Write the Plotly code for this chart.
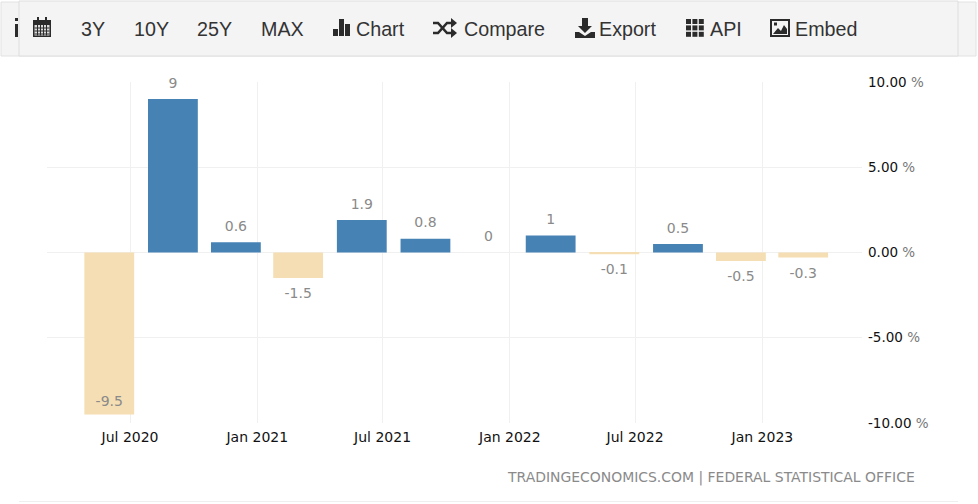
import plotly.graph_objects as go

# ---- data ----
quarters = ["2020-06-01", "2020-09-01", "2020-12-01", "2021-03-01", "2021-06-01", "2021-09-01",
            "2021-12-01", "2022-03-01", "2022-06-01", "2022-09-01", "2022-12-01", "2023-03-01"]
values = [-9.5, 9, 0.6, -1.5, 1.9, 0.8, 0, 1, -0.1, 0.5, -0.5, -0.3]
x_tick_vals = ["2020-07-01", "2021-01-01", "2021-07-01", "2022-01-01", "2022-07-01", "2023-01-01"]
x_tick_text = ["Jul 2020", "Jan 2021", "Jul 2021", "Jan 2022", "Jul 2022", "Jan 2023"]
y_tick_vals = [-10, -5, 0, 5, 10]
y_tick_text = ["-10.00", "-5.00", "0.00", "5.00", "10.00"]
toolbar_items = [("3Y", 81), ("10Y", 134), ("25Y", 197), ("MAX", 261), ("Chart", 356),
                 ("Compare", 464), ("Export", 599), ("API", 710), ("Embed", 795)]
footer = "TRADINGECONOMICS.COM | FEDERAL STATISTICAL OFFICE"

# ---- page geometry (pixels) ----
W, H = 978, 504
L, R, T, B = 47, 862, 82, 423
BLUE, SAND, GRID, TXT = "#4682b4", "#f5deb3", "#f0f0f0", "#8a8a8a"
ICON = "#2b2b2b"
AXIS_FONT = "DejaVu Sans"


def px(x):
    return (x - L) / (R - L)


def py(y):
    return (B - y) / (B - T)


def rect(x0, y0, x1, y1, fill=None, line=None, layer="below"):
    return dict(type="rect", xref="paper", yref="paper", x0=px(x0), x1=px(x1), y0=py(y0), y1=py(y1),
                fillcolor=fill or "rgba(0,0,0,0)", line=dict(color=line or "rgba(0,0,0,0)", width=1 if line else 0),
                layer=layer)


def poly(points, fill=ICON, close=True, width=0):
    p = "M " + " L ".join(f"{px(a):.5f},{py(b):.5f}" for a, b in points) + (" Z" if close else "")
    return dict(type="path", xref="paper", yref="paper", path=p,
                fillcolor=fill if close else "rgba(0,0,0,0)",
                line=dict(color=ICON, width=width), layer="above")


shapes = [
    rect(1, 2, 976, 56, "#f4f4f4", "#e2e2e2"),
    rect(19, 1, 958, 56, "#f4f4f4", "#dedede"),
    rect(19, 501, 958, 502, "#efefef"),
]
# clipped info icon at the left edge
shapes += [rect(15, 18, 18, 21, ICON, layer="above"), rect(15, 24, 18, 37, ICON, layer="above")]
# calendar
shapes += [rect(33, 20, 51, 37, ICON, layer="above"), rect(37, 17, 39, 21, ICON, layer="above"),
           rect(45, 17, 47, 21, ICON, layer="above"), rect(34.5, 25, 49.5, 35.5, "#dcdcdc", layer="above")]
for r in range(3):
    shapes.append(rect(34.5, 27.5 + r * 3, 49.5, 28.5 + r * 3, ICON, layer="above"))
for c in range(4):
    shapes.append(rect(37 + c * 3, 25, 38 + c * 3, 35.5, ICON, layer="above"))
# bars
shapes += [rect(333, 29, 338, 36, ICON, layer="above"), rect(339, 19, 344, 36, ICON, layer="above"),
           rect(345, 24, 350, 36, ICON, layer="above")]
# shuffle
shapes += [poly([(433, 33), (438, 33), (447, 23), (452, 23)], close=False, width=2.6),
           poly([(433, 23), (438, 23), (447, 33), (452, 33)], close=False, width=2.6),
           poly([(451, 18), (457, 23), (451, 28)]), poly([(451, 28), (457, 33), (451, 38)])]
# download
shapes += [poly([(582, 18), (588, 18), (588, 26), (592, 26), (585, 33), (578, 26), (582, 26)]),
           poly([(575, 32), (579, 32), (585, 36), (591, 32), (595, 32), (595, 38), (575, 38)])]
# grid
for r in range(3):
    for c in range(3):
        shapes.append(rect(686 + c * 6.4, 19 + r * 6.4, 691 + c * 6.4, 24 + r * 6.4, ICON, layer="above"))
# picture
shapes += [rect(770, 19, 790, 37, ICON, layer="above"), rect(772, 21, 788, 35, "#f4f4f4", layer="above"),
           poly([(773, 34), (778, 28), (781, 31), (784, 25), (787, 29), (787, 34)]),
           rect(774, 22.5, 777, 25.5, ICON, layer="above")]

annotations = [dict(text=t, xref="paper", yref="paper", x=px(x), y=py(29), xanchor="left", yanchor="middle",
                    showarrow=False, align="left", xshift=-2,
                    font=dict(family="Liberation Sans", size=19.7, color="#333333"))
               for t, x in toolbar_items]
annotations.append(dict(text=footer, xref="paper", yref="paper", x=px(915), y=py(477), xanchor="right",
                        yanchor="middle", showarrow=False, xshift=2,
                        font=dict(family=AXIS_FONT, size=13.95, color=TXT)))

fig = go.Figure(go.Bar(
    x=quarters, y=values, width=72 * 86400000,
    marker=dict(color=[BLUE if v > 0 else SAND for v in values], line_width=0),
    hoverinfo="x+y",
))

# value labels: above positive bars, below negative bars, inside the one very long bar
label_pos = ["top center" if (v >= 0 or v < -5) else "bottom center" for v in values]
label_gap = [6 if v < -5 else (11 if v >= 0 else 14) for v in values]
fig.add_trace(go.Scatter(
    x=quarters, y=values, mode="markers+text", text=[f"{v:g}" for v in values],
    textposition=label_pos, cliponaxis=False, hoverinfo="skip",
    marker=dict(size=label_gap, opacity=0),
    textfont=dict(family=AXIS_FONT, size=14, color=TXT),
))

fig.update_layout(
    width=W, height=H, autosize=False, showlegend=False,
    paper_bgcolor="white", plot_bgcolor="white",
    margin=dict(l=L, r=W - R, t=T, b=H - B, pad=0),
    font=dict(family=AXIS_FONT, size=14, color="#111111"),
    shapes=shapes, annotations=annotations,
    xaxis=dict(type="date", range=["2020-03-03", "2023-05-25"], tickvals=x_tick_vals, ticktext=x_tick_text,
               showgrid=True, gridcolor=GRID, gridwidth=1, zeroline=False, showline=False, ticks="", fixedrange=True,
               ticklabelstandoff=4,
               tickfont=dict(family=AXIS_FONT, size=14, color="#111111")),
    yaxis=dict(side="right", range=[-10, 10], tickvals=y_tick_vals,
               ticktext=[f'{t} <span style="color:#777777">%</span>' for t in y_tick_text],
               showgrid=True, gridcolor=GRID, gridwidth=1, zeroline=False, showline=False, ticks="", fixedrange=True,
               ticklabelstandoff=5,
               tickfont=dict(family=AXIS_FONT, size=13.5, color="#111111")),
)

fig.write_html("out.html", config=dict(displayModeBar=False),
               post_script="document.body.style.margin='0';document.body.style.overflow='hidden';")
